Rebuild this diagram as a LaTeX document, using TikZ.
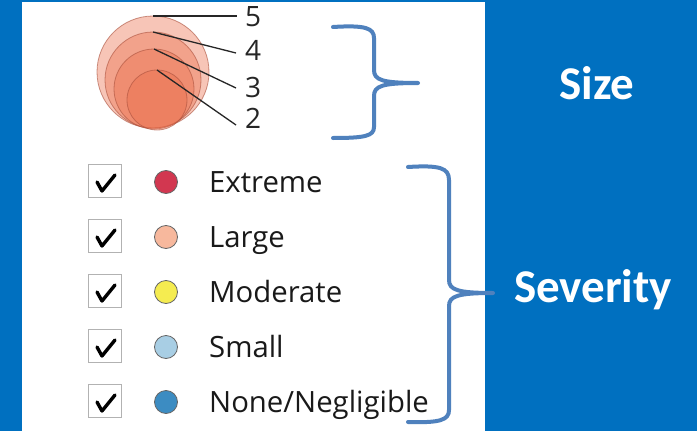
\documentclass[tikz,border=0pt]{standalone}
\usepackage{fontspec}
\setmainfont{Open Sans}
\newfontfamily\calibri{Carlito}
\definecolor{bgblue}{RGB}{0,112,192}
\definecolor{bracec}{RGB}{79,129,189}
\definecolor{salmonc}{RGB}{235,110,75}
\definecolor{salmonl}{RGB}{170,80,60}
\definecolor{cExt}{RGB}{210,55,80}
\definecolor{cLar}{RGB}{247,184,157}
\definecolor{cMod}{RGB}{245,236,80}
\definecolor{cSma}{RGB}{168,206,228}
\definecolor{cNon}{RGB}{60,140,194}
\begin{document}
\begin{tikzpicture}[x=1pt,y=-1pt,
  sizecirc/.style={circle,inner sep=0pt,outer sep=0pt,fill=salmonc,fill opacity=0.4,draw=salmonl,draw opacity=0.6,line width=0.8pt},
  leader/.style={draw=black!85,line width=1.3pt},
  digit/.style={anchor=base west,inner sep=0pt,font=\fontsize{28}{30}\selectfont,text=black!85},
  chkbox/.style={rectangle,draw=black!30,line width=1.5pt,minimum size=33pt,inner sep=0pt},
  checkm/.style={draw=black,line width=3.4pt,line cap=round,line join=round},
  dot/.style={circle,draw=black!60,line width=0.8pt,minimum size=23pt,inner sep=0pt},
  legtext/.style={anchor=base west,inner sep=0pt,font=\fontsize{29.3}{31}\selectfont,text=black!90},
  bracestyle/.style={draw=bracec,line width=4pt,line cap=round,line join=round},
  biglab/.style={anchor=base,inner sep=0pt,text=white,font=\calibri\bfseries\fontsize{47}{50}\selectfont}]
\fill[bgblue] (0,0) rectangle (697,431);
\useasboundingbox (0,0) rectangle (697,431);
\fill[white] (22,2) rectangle (485,431);
% graduated circles
\node[sizecirc,minimum size=112pt] (c5) at (153,72) {};
\node[sizecirc,minimum size=96pt] (c4) at (153,80) {};
\node[sizecirc,minimum size=80pt] (c3) at (154,89) {};
\node[sizecirc,minimum size=60pt] (c2) at (157,100) {};
% size labels
\node[digit] (l5) at (245,27) {5};
\node[digit] (l4) at (245,60) {4};
\node[digit] (l3) at (245,97) {3};
\node[digit] (l2) at (245,128) {2};
\coordinate (e5) at (237,16);
\coordinate (e4) at (236,53);
\coordinate (e3) at (236,88);
\coordinate (e2) at (236,125);
\draw[leader] (c5.north) -- (e5);
\draw[leader] (c4.north) -- (e4);
\draw[leader] (c3.north) -- (e3);
\draw[leader] (c2.north) -- (e2);
% legend rows
\node[chkbox] (b1) at (105,181) {};
\node[chkbox] (b2) at (105,236) {};
\node[chkbox] (b3) at (105,291) {};
\node[chkbox] (b4) at (105,346) {};
\node[chkbox] (b5) at (105,401) {};
\foreach \b in {b1,b2,b3,b4,b5}
  \draw[checkm] ([shift={(-8,1)}]\b.center) -- ++(5,9) -- ++(13,-16);
\node[dot,fill=cExt] (d1) at (166,182) {};
\node[dot,fill=cLar] (d2) at (166,237) {};
\node[dot,fill=cMod] (d3) at (166,292) {};
\node[dot,fill=cSma] (d4) at (166,347) {};
\node[dot,fill=cNon] (d5) at (166,402) {};
\node[legtext] (t1) at (209,192) {Extreme};
\node[legtext] (t2) at (209,247) {Large};
\node[legtext] (t3) at (209,302) {Moderate};
\node[legtext] (t4) at (209,357) {Small};
\node[legtext] (t5) at (209,412) {None/Negligible};
% braces
\draw[bracestyle] (333,27) .. controls (365,25) and (374,28) .. (374,38) -- (374,70)
  .. controls (374,80) and (382,83) .. (418,83)
  .. controls (382,83) and (374,86) .. (374,96) -- (374,127)
  .. controls (374,136) and (365,138) .. (333,138);
\draw[bracestyle] (408,167) .. controls (440,165) and (449,168) .. (449,180) -- (449,280)
  .. controls (449,290) and (458,293) .. (493,293)
  .. controls (458,293) and (449,296) .. (449,306) -- (449,410)
  .. controls (449,420) and (440,423) .. (408,422);
% titles
\node[biglab] (size) at (597,99) {Size};
\node[biglab] (sev) at (593,302) {Severity};
\end{tikzpicture}
\end{document}
